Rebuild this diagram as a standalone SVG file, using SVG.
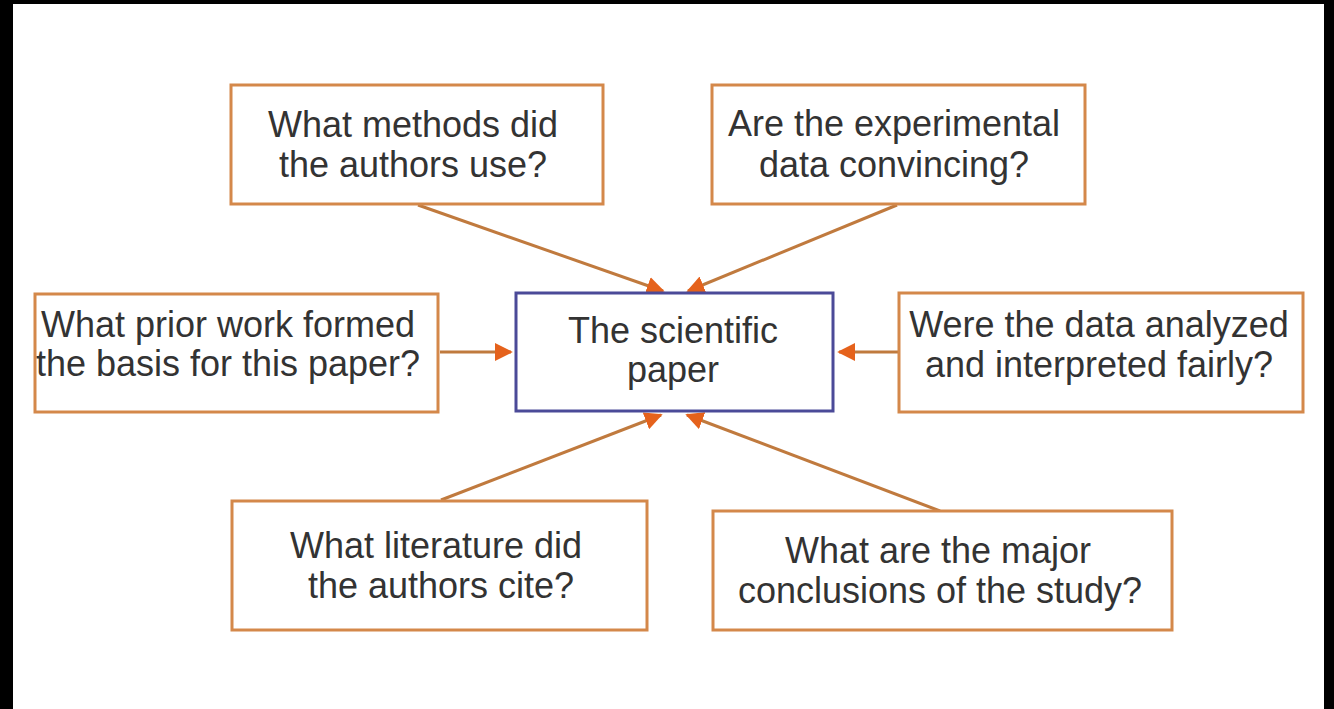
<svg xmlns="http://www.w3.org/2000/svg" width="1334" height="709" viewBox="0 0 1334 709">
<style>
.box{fill:#ffffff;stroke:#d4884a;stroke-width:3}
.center{fill:#ffffff;stroke:#4b4a98;stroke-width:3}
.t{font-family:"Liberation Sans",Arial,sans-serif;font-size:36px;fill:#333333;text-anchor:middle}
.c{stroke:#c07a3e;stroke-width:3;fill:none;marker-end:url(#ah)}
</style>
<defs>
<marker id="ah" viewBox="0 0 10 10" refX="9" refY="5" markerWidth="6" markerHeight="6" markerUnits="strokeWidth" orient="auto">
<path d="M0,0 L10,5 L0,10 z" fill="#e5621c"/>
</marker>
</defs>
<rect x="0" y="0" width="1334" height="709" fill="#000000"/>
<rect x="13" y="4" width="1311" height="705" fill="#ffffff"/>
<g id="connectors">
<line class="c" x1="418" y1="205" x2="663" y2="291"/>
<line class="c" x1="897" y1="205" x2="688" y2="291"/>
<line class="c" x1="440" y1="352" x2="511" y2="352"/>
<line class="c" x1="898" y1="352" x2="839" y2="352"/>
<line class="c" x1="441" y1="500" x2="661" y2="415"/>
<line class="c" x1="940" y1="511" x2="687" y2="415"/>
</g>
<g id="center">
<rect class="center" x="516" y="293" width="317" height="118"/>
<text class="t" x="673" y="343">The scientific</text>
<text class="t" x="673" y="382">paper</text>
</g>
<g id="methods">
<rect class="box" x="231" y="85" width="372" height="119"/>
<text class="t" x="413" y="137">What methods did</text>
<text class="t" x="413" y="177">the authors use?</text>
</g>
<g id="experimental">
<rect class="box" x="712" y="85" width="373" height="119"/>
<text class="t" x="894" y="136">Are the experimental</text>
<text class="t" x="894" y="177">data convincing?</text>
</g>
<g id="prior">
<rect class="box" x="35" y="294" width="403" height="118"/>
<text class="t" x="228" y="337">What prior work formed</text>
<text class="t" x="228" y="376">the basis for this paper?</text>
</g>
<g id="analyzed">
<rect class="box" x="899" y="293" width="404" height="119"/>
<text class="t" x="1099" y="337">Were the data analyzed</text>
<text class="t" x="1099" y="377">and interpreted fairly?</text>
</g>
<g id="literature">
<rect class="box" x="232" y="501" width="415" height="129"/>
<text class="t" x="436" y="558">What literature did</text>
<text class="t" x="441" y="598">the authors cite?</text>
</g>
<g id="conclusions">
<rect class="box" x="713" y="511" width="459" height="119"/>
<text class="t" x="938" y="563">What are the major</text>
<text class="t" x="940" y="603">conclusions of the study?</text>
</g>
</svg>
